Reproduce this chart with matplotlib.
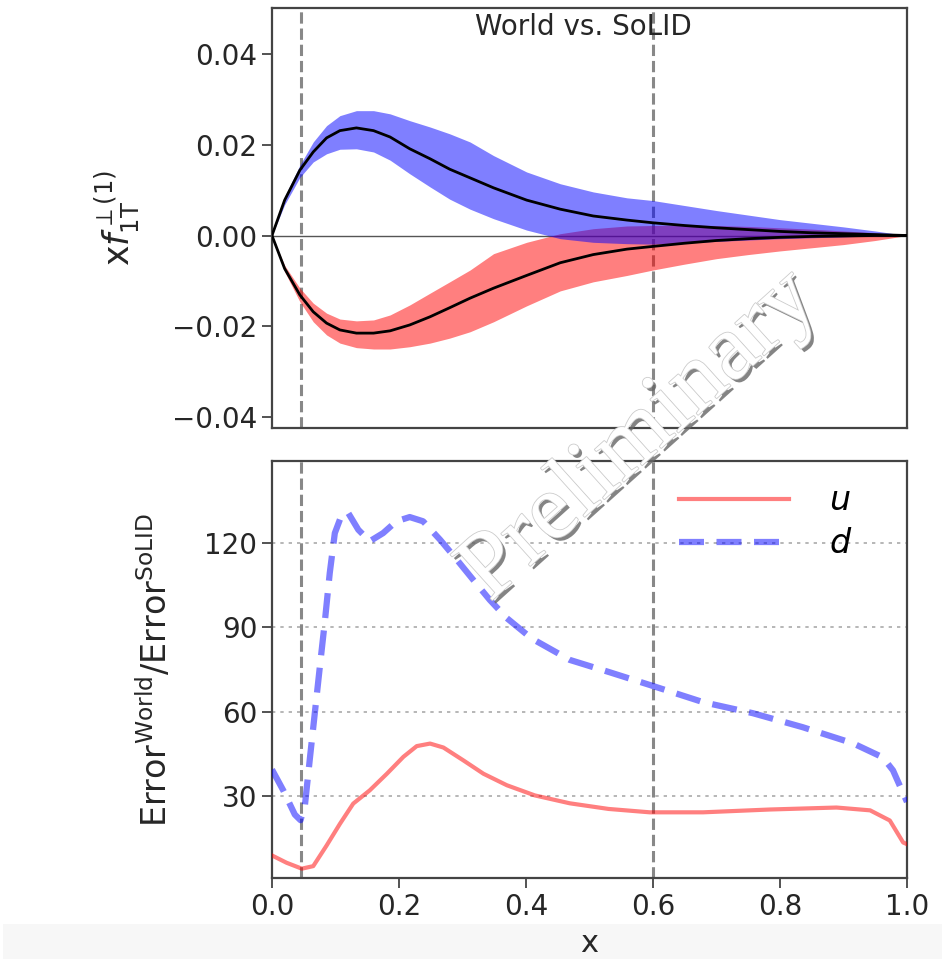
import matplotlib
matplotlib.use("Agg")
import matplotlib.pyplot as plt
import matplotlib.patheffects as pe
from matplotlib.patches import Rectangle

# ---------------- data ----------------
x_top = [0, 0.02, 0.044, 0.065, 0.086, 0.107, 0.133, 0.16, 0.186, 0.217, 0.249, 0.28,
         0.312, 0.349, 0.401, 0.454, 0.506, 0.559, 0.6, 0.65, 0.7, 0.75, 0.8, 0.85,
         0.9, 0.95, 1.0]

blue_mid = [0, 0.0078, 0.0144, 0.0184, 0.0215, 0.0231, 0.0237, 0.0231, 0.0217, 0.0191,
            0.0169, 0.0146, 0.0127, 0.0105, 0.0078, 0.0058, 0.0043, 0.0034, 0.0028,
            0.0022, 0.0017, 0.0013, 0.0009, 0.0006, 0.0004, 0.0002, 0]
blue_hi = [0, 0.0086, 0.0155, 0.0206, 0.0242, 0.0264, 0.0275, 0.0275, 0.0268, 0.0253,
           0.0239, 0.0224, 0.0206, 0.0176, 0.0140, 0.0114, 0.0096, 0.0083, 0.0077,
           0.0066, 0.0055, 0.0045, 0.0035, 0.0027, 0.0019, 0.0010, 0]
blue_lo = [0, 0.0068, 0.0128, 0.0162, 0.0180, 0.0190, 0.0191, 0.0184, 0.0166, 0.0136,
           0.0107, 0.0080, 0.0058, 0.0037, 0.0012, -0.0007, -0.0015, -0.0018, -0.0019,
           -0.0016, -0.0013, -0.0010, -0.0007, -0.0005, -0.0003, -0.0001, 0]

red_mid = [0, -0.0073, -0.0131, -0.0168, -0.0193, -0.0208, -0.0215, -0.0215, -0.0210, -0.0197,
           -0.0179, -0.0159, -0.0138, -0.0116, -0.0088, -0.0060, -0.0042, -0.0030, -0.0024,
           -0.0017, -0.0011, -0.0007, -0.0004, -0.0002, -0.0001, 0, 0]
red_hi = [0, -0.0066, -0.0116, -0.0149, -0.0171, -0.0184, -0.0188, -0.0186, -0.0175, -0.0153,
          -0.0127, -0.0102, -0.0076, -0.0040, -0.0015, 0.0004, 0.0015, 0.0021, 0.0022,
          0.0023, 0.0022, 0.0020, 0.0017, 0.0014, 0.0010, 0.0006, 0]
red_lo = [0, -0.0080, -0.0146, -0.0190, -0.0219, -0.0237, -0.0247, -0.0250, -0.0250, -0.0245,
          -0.0237, -0.0226, -0.0212, -0.0190, -0.0155, -0.0122, -0.0102, -0.0088, -0.0076,
          -0.0063, -0.0051, -0.0042, -0.0034, -0.0027, -0.0020, -0.0011, 0]

x_d = [0, 0.018, 0.036, 0.045, 0.052, 0.06, 0.068, 0.076, 0.083, 0.091, 0.099, 0.11,
       0.12, 0.136, 0.154, 0.175, 0.196, 0.217, 0.238, 0.265, 0.291, 0.317, 0.343, 0.37,
       0.409, 0.469, 0.532, 0.595, 0.679, 0.757, 0.836, 0.915, 0.962, 0.978, 1.0]
ratio_d = [39.5, 32, 23.5, 21.5, 27, 44, 60.6, 77.2, 91.4, 109.2, 123.4, 130,
           130.6, 124.6, 120.5, 123.4, 127.6, 129.1, 127.6, 121, 114, 106.8, 99.7, 93.2,
           86, 78.4, 74, 69.5, 63.4, 59.5, 54.5, 48.8, 43.8, 39.2, 28]

x_u = [0, 0.023, 0.047, 0.065, 0.086, 0.107, 0.128, 0.154, 0.181, 0.207, 0.228, 0.249,
       0.27, 0.301, 0.333, 0.37, 0.414, 0.469, 0.53, 0.595, 0.679, 0.784, 0.889, 0.942,
       0.973, 0.994, 1.0]
ratio_u = [9, 6.4, 4.3, 5.2, 12.5, 20.2, 27.4, 32.1, 38, 44, 47.8, 48.7,
           47.3, 42.8, 38, 33.9, 30.3, 27.5, 25.5, 24.3, 24.3, 25.3, 26, 25,
           21.4, 13.6, 13]

vlines_x = [0.045, 0.6]
top_yticks = [-0.04, -0.02, 0.00, 0.02, 0.04]
top_yticklabels = ['\u22120.04', '\u22120.02', '0.00', '0.02', '0.04']
bot_yticks = [30, 60, 90, 120]
xticks = [0.0, 0.2, 0.4, 0.6, 0.8, 1.0]
xticklabels = ['0.0', '0.2', '0.4', '0.6', '0.8', '1.0']

# ---------------- figure ----------------
txt = '#262626'
plt.rcParams['font.family'] = ['DejaVu Sans']
plt.rcParams['mathtext.fontset'] = 'dejavusans'
fig = plt.figure(figsize=(9.42, 9.59), dpi=100)

fig.patches.append(Rectangle((0.003, 0.0), 0.997, 0.036, transform=fig.transFigure,
                             facecolor='#f7f7f7', edgecolor='none', zorder=-1))

ax1 = fig.add_axes([0.2887, 0.5537, 0.6741, 0.4379])
ax2 = fig.add_axes([0.2887, 0.0845, 0.6741, 0.4348])

for ax in (ax1, ax2):
    for s in ax.spines.values():
        s.set_color('#444444')
        s.set_linewidth(1.6)
    ax.set_xlim(0, 1)
    for xv in vlines_x:
        ax.axvline(xv, color='#888888', ls='--', lw=2.2, zorder=1)
    ax.tick_params(axis='both', direction='out', length=7, width=1.3, color='#444444',
                   labelsize=20, labelcolor=txt, top=False, right=False)

# top panel
ax1.fill_between(x_top, red_lo, red_hi, color='red', alpha=0.5, lw=0, zorder=2)
ax1.fill_between(x_top, blue_lo, blue_hi, color='blue', alpha=0.5, lw=0, zorder=2)
ax1.plot(x_top, blue_mid, color='black', lw=2, zorder=3)
ax1.plot(x_top, red_mid, color='black', lw=2, zorder=3)
ax1.axhline(0, color='#555555', lw=1.0, zorder=1.5)
ax1.set_ylim(-0.0424, 0.0501)
ax1.set_yticks(top_yticks)
ax1.set_yticklabels(top_yticklabels)
ax1.set_xticks([])
ax1.set_ylabel(r'$\mathrm{x}f_{\mathrm{1T}}^{\perp(1)}$', fontsize=25, color=txt, labelpad=22)
ax1.text(0.49, 0.955, 'World vs. SoLID', transform=ax1.transAxes, ha='center', va='center',
         fontsize=20, color=txt)

# bottom panel
ax2.plot(x_u, ratio_u, color='red', alpha=0.5, lw=3, label=r'$u$', zorder=3)
ax2.plot(x_d, ratio_d, color='blue', alpha=0.5, lw=4.5, ls=(0, (4, 2)), label=r'$d$', zorder=3)
ax2.set_ylim(1, 149)
ax2.set_yticks(bot_yticks)
ax2.set_xticks(xticks)
ax2.set_xticklabels(xticklabels)
ax2.yaxis.grid(True, color='#aaaaaa', ls=(0, (2, 3)), lw=1.2)
ax2.set_axisbelow(True)
ax2.set_ylabel(r'$\mathrm{Error}^{\mathrm{World}}/\mathrm{Error}^{\mathrm{SoLID}}$',
               fontsize=24, color=txt, labelpad=22)
ax2.set_xlabel('x', fontsize=22, color=txt, labelpad=6)
leg = ax2.legend(loc='upper right', bbox_to_anchor=(0.95, 1.0), frameon=False, fontsize=24,
                 handlelength=3.3, borderaxespad=0.3, labelspacing=0.3, handletextpad=1.2)

# watermark
fig.text(0.68, 0.545, 'Preliminary', rotation=42, ha='center', va='center',
         fontsize=68, family='Liberation Serif', color='white', zorder=10,
         path_effects=[pe.withSimplePatchShadow(offset=(2.5, -2.5), shadow_rgbFace='#666666', alpha=0.8),
                       pe.Stroke(linewidth=1.2, foreground='#cccccc'), pe.Normal()])

fig.savefig('out.png', dpi=100)
